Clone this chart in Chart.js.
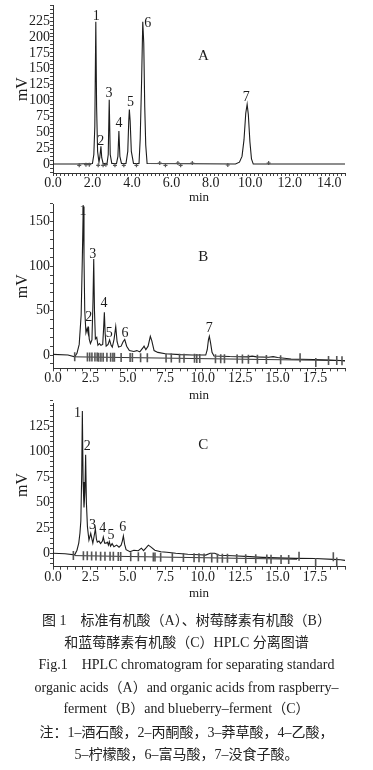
<!DOCTYPE html>
<html><head><meta charset="utf-8">
<script src="https://cdn.jsdelivr.net/npm/chart.js@4.4.1/dist/chart.umd.min.js"></script>
<style>
html,body{margin:0;padding:0;background:#fff;}
body{width:373px;height:770px;position:relative;overflow:hidden;}
canvas{position:absolute;left:0;}
.cap{position:absolute;left:0;width:373px;text-align:center;font-family:"Liberation Serif","Noto Sans CJK SC",serif;font-size:14px;color:#222;white-space:nowrap;line-height:20px;height:20px;}
</style></head><body>
<canvas id="cA" width="373" height="205" style="top:0px"></canvas>
<canvas id="cB" width="373" height="205" style="top:198px"></canvas>
<canvas id="cC" width="373" height="204" style="top:397px"></canvas>
<div class="cap" style="top:611px">图 1　标准有机酸（A）、树莓酵素有机酸（B）</div>
<div class="cap" style="top:633px">和蓝莓酵素有机酸（C）HPLC 分离图谱</div>
<div class="cap" style="top:655px">Fig.1　HPLC chromatogram for separating standard</div>
<div class="cap" style="top:678px">organic acids（A）and organic acids from raspberry–</div>
<div class="cap" style="top:699px">ferment（B）and blueberry–ferment（C）</div>
<div class="cap" style="top:723px">注：1–酒石酸，2–丙酮酸，3–莽草酸，4–乙酸，</div>
<div class="cap" style="top:745px">5–柠檬酸，6–富马酸，7–没食子酸。</div>
<script>
// ---------- Panel A : standard organic acids ----------
const timeA   = [0, 1.2, 2.0, 2.07, 2.12, 2.17, 2.21, 2.26, 2.33, 2.37, 2.43, 2.47, 2.54, 2.74, 2.8, 2.85, 2.9, 2.98, 3.22, 3.29, 3.34, 3.39, 3.47, 3.7, 3.79, 3.84, 3.87, 3.91, 3.97, 4.08, 4.36, 4.42, 4.49, 4.55, 4.6, 4.65, 4.7, 4.77, 9.25, 9.45, 9.58, 9.68, 9.77, 9.84, 9.9, 9.98, 10.06, 10.15, 14.8];
const signalA = [0, 0, 1, 15, 60, 224, 90, 20, 3, 10, 28, 10, 1, 1, 15, 101, 15, 1, 1, 12, 52, 12, 1, 1, 20, 68, 86, 68, 20, 1, 1, 40, 130, 224, 190, 90, 30, 1, 0, 3, 12, 38, 80, 94, 78, 35, 8, 0, 0];
const markTimeA = [1.33, 1.67, 1.84, 2.29, 2.54, 2.68, 3.14, 3.59, 4.23, 5.41, 5.7, 6.33, 6.47, 7.06, 8.86, 10.93];
const markValA  = [-2, -1, -1, -2, -2, -1, -2, -2, -2, 1.5, -2, 1.5, -2, 1.5, -1.5, 1.5];
const peakNumA  = ['1', '2', '3', '4', '5', '6', '7'];
const peakLblTimeA = [2.19, 2.42, 2.84, 3.34, 3.93, 4.8, 9.79];
const peakLblValA  = [233, 35, 111, 63.5, 97, 222, 105];
const xMajorA = [0, 2, 4, 6, 8, 10, 12, 14];
const yMajorA = [0, 25, 50, 75, 100, 125, 150, 175, 200, 225];

// ---------- Panel B : raspberry ferment ----------
const timeB   = [0, 1.0, 1.45, 1.6, 1.75, 1.88, 1.96, 2.02, 2.07, 2.12, 2.2, 2.28, 2.33, 2.37, 2.42, 2.5, 2.6, 2.67, 2.72, 2.77, 2.83, 2.92, 3.0, 3.1, 3.2, 3.32, 3.38, 3.43, 3.48, 3.55, 3.68, 3.78, 3.88, 3.96, 4.08, 4.19, 4.28, 4.38, 4.55, 4.68, 4.79, 4.92, 5.1, 5.4, 5.6, 5.8, 6.0, 6.08, 6.2, 6.35, 6.5, 6.6, 6.75, 7.0, 7.5, 8.5, 9.3, 10.2, 10.3, 10.38, 10.44, 10.52, 10.62, 10.75, 11.8, 13.0, 13.3, 13.6, 14.4, 14.7, 15.0, 15.9, 17.4, 18.5, 19.2, 19.5];
const signalB = [0.8, 0, -2, 2, 12, 45, 110, 167, 110, 50, 25, 30, 26, 32, 18, 13, 17, 60, 108, 50, 18, 20, 11, 13, 11, 12, 30, 48, 25, 10, 12, 17, 11, 9, 18, 32, 15, 9, 10, 15, 17.5, 10, 5, 4, 5, 3.5, 8, 10, 6, 10, 21, 16, 5, 3, 1.5, 0.5, 0, 0, 6, 17, 21, 14, 3, -1, -1.7, -2, -1.2, -2, -2.4, -1.8, -2.8, -4.4, -5, -5.5, -6.2, -6.5];
const baseTimeB = [1.45, 19.5];
const baseValB  = [-2, -6.3];
const markTimeB = [1.45, 2.3, 2.45, 2.6, 2.8, 2.95, 3.05, 3.2, 3.35, 3.6, 3.85, 4.0, 4.1, 4.55, 5.15, 5.3, 5.85, 6.3, 7.55, 7.9, 8.45, 8.75, 9.45, 9.6, 9.8, 10.85, 11.2, 11.45, 12.3, 12.65, 13.05, 13.65, 14.25, 15.2, 16.5, 17.55, 18.4, 18.95, 19.3];
const markValB  = [-2, -2.2, -2.2, -2.3, -2.3, -2.3, -2.4, -2.4, -2.4, -2.5, -2.5, -2.5, -2.6, -2.7, -2.8, -2.8, -3, -3, -3.3, -3.4, -3.5, -3.6, -3.7, -3.8, -3.8, -4.1, -4.2, -4.2, -4.4, -4.5, -4.6, -4.8, -4.9, -5.2, -3, -8.5, -6, -6.2, -6.3];
const peakNumB  = ['1', '2', '3', '4', '5', '6', '7'];
const peakLblTimeB = [2.0, 2.38, 2.65, 3.41, 3.76, 4.81, 10.44];
const peakLblValB  = [162, 42, 113.6, 57.7, 25, 25, 29.8];
const xMajorBC = [0, 2.5, 5, 7.5, 10, 12.5, 15, 17.5];
const yMajorB = [0, 50, 100, 150];

// ---------- Panel C : blueberry ferment ----------
const timeC   = [0, 0.8, 1.45, 1.6, 1.72, 1.8, 1.86, 1.92, 1.96, 2.01, 2.07, 2.13, 2.18, 2.23, 2.3, 2.4, 2.52, 2.6, 2.66, 2.76, 2.83, 2.9, 2.96, 3.07, 3.18, 3.3, 3.36, 3.45, 3.55, 3.63, 3.7, 3.76, 3.84, 3.95, 4.07, 4.25, 4.41, 4.55, 4.63, 4.7, 4.78, 4.88, 5.14, 5.4, 5.7, 5.9, 6.05, 6.2, 6.37, 6.55, 6.8, 7.2, 7.6, 8.2, 9.0, 9.8, 10.2, 10.5, 10.8, 11.1, 12.0, 13.15, 14.0, 15.0, 16.2, 17.5, 18.7, 19.2, 19.5];
const signalC = [0, -0.5, -1.5, 3, 10, 20, 32, 80, 140, 70, 45, 60, 97, 50, 26, 13, 19.6, 14, 10, 18, 24, 14, 11, 12, 9.5, 12, 16, 10, 10, 11, 8, 11.5, 7, 9.5, 6.5, 8, 6, 8, 12, 17, 9, 3.5, 1.5, 3, 2.5, 5, 2.5, 5, 8, 6, 3, 1.5, 1, 0, -1, -1.5, -1.8, 0, 0, -2, -2.5, -3.3, -4, -4.5, -5, -5.2, -6, -6.3, -7];
const baseTimeC = [1.45, 16.3];
const baseValC  = [-2.3, -5.9];
const markTimeC = [1.36, 2.03, 2.29, 2.58, 2.87, 3.18, 3.47, 3.81, 4.03, 4.36, 4.52, 5.19, 5.7, 6.14, 6.7, 6.81, 7.19, 7.97, 8.71, 9.42, 9.75, 10.09, 10.6, 10.98, 11.31, 11.65, 12.27, 12.87, 13.54, 14.28, 14.56, 15.23, 15.74, 16.43, 17.54, 18.72, 18.95];
const markValC  = [-2.3, -2.4, -2.5, -2.6, -2.7, -2.8, -2.8, -2.9, -3, -3.1, -3.1, -3.3, -3.4, -3.5, -3.7, -3.7, -3.8, -4, -4.2, -4.4, -4.5, -4.6, -4.7, -4.8, -4.9, -5, -5.2, -5.3, -5.5, -5.7, -5.8, -6, -6.1, -3, -9, -3.5, -8.5];
const peakNumC  = ['1', '2', '3', '4', '5', '6'];
const peakLblTimeC = [1.63, 2.29, 2.63, 3.32, 3.87, 4.65];
const peakLblValC  = [137.5, 105, 27.8, 24.5, 18, 25.5];
const yMajorC = [0, 25, 50, 75, 100, 125];

const SERIF = '"Liberation Serif", "Times New Roman", serif';
const INK = '#1c1c1c';

function pts(xs, ys) { return xs.map((t, i) => ({ x: t, y: ys[i] })); }
function range(a, b, step) { const out = []; const n = Math.round((b - a) / step); for (let i = 0; i <= n; i++) out.push(Math.round((a + i * step) * 1000) / 1000); return out; }
function isIn(v, arr) { return arr.some(m => Math.abs(m - v) < 1e-6); }

function labelPlugin(nums, lx, ly, letter, letX, letY) {
  return {
    id: 'peakLabels',
    afterDatasetsDraw(chart) {
      const { ctx, scales: { x, y } } = chart;
      ctx.save();
      ctx.fillStyle = INK;
      ctx.textAlign = 'center';
      ctx.textBaseline = 'middle';
      ctx.font = '14px ' + SERIF;
      nums.forEach((s, i) => ctx.fillText(s, x.getPixelForValue(lx[i]), y.getPixelForValue(ly[i])));
      ctx.font = '15px ' + SERIF;
      ctx.fillText(letter, x.getPixelForValue(letX), y.getPixelForValue(letY));
      ctx.restore();
    }
  };
}

function makeChart(id, cfg) {
  const datasets = [
    { data: pts(cfg.t, cfg.s), showLine: true, borderColor: INK, borderWidth: 1.1, pointRadius: 0, tension: 0, order: 1 }
  ];
  if (cfg.bt) datasets.push({ data: pts(cfg.bt, cfg.bv), showLine: true, borderColor: '#333', borderWidth: 1, pointRadius: 0, tension: 0, order: 2 });
  datasets.push({ data: pts(cfg.mt, cfg.mv), showLine: false, pointStyle: cfg.markStyle, rotation: cfg.markRot, radius: cfg.markR, pointRadius: cfg.markR, borderColor: '#555', borderWidth: cfg.markW, backgroundColor: '#555', order: 0 });
  const xTicks = range(0, cfg.xmax, cfg.xminor);
  const yTicks = range(cfg.ytickMin, cfg.ymax, cfg.yminor);
  return new Chart(document.getElementById(id), {
    type: 'scatter',
    data: { datasets },
    options: {
      responsive: false, animation: false, events: [],
      layout: { padding: { top: cfg.padTop, right: 28, left: 0, bottom: 0 } },
      plugins: { legend: { display: false }, tooltip: { enabled: false } },
      scales: {
        x: {
          type: 'linear', min: 0, max: cfg.xmax,
          afterBuildTicks: s => { s.ticks = xTicks.map(v => ({ value: v })); },
          afterFit: s => { s.height = cfg.xh; s.paddingLeft = 0; s.paddingRight = 0; },
          ticks: { autoSkip: false, maxRotation: 0, padding: -1, color: INK, font: { family: SERIF, size: 14 },
                   callback: v => isIn(v, cfg.xMajor) ? v.toFixed(1) : '' },
          grid: { drawOnChartArea: false, tickLength: 3, tickColor: '#444', color: '#444' },
          border: { color: '#333', width: 1 },
          title: { display: true, text: 'min', color: INK, font: { family: SERIF, size: 13 }, padding: { top: 0, bottom: 0 } }
        },
        y: {
          type: 'linear', min: cfg.ymin, max: cfg.ymax,
          afterBuildTicks: s => { s.ticks = yTicks.map(v => ({ value: v })); },
          afterFit: s => { s.width = 53; s.paddingTop = 0; s.paddingBottom = 0; },
          ticks: { autoSkip: false, padding: 0, color: INK, font: { family: SERIF, size: 14 },
                   callback: v => isIn(v, cfg.yMajor) ? String(v) : '' },
          grid: { drawOnChartArea: false, tickLength: 3, tickColor: '#444', color: '#444' },
          border: { color: '#333', width: 1 },
          title: { display: true, text: 'mV', color: INK, font: { family: SERIF, size: 16 }, padding: { top: 13, bottom: 0 } }
        }
      }
    },
    plugins: [labelPlugin(cfg.nums, cfg.lx, cfg.ly, cfg.letter, cfg.letX, cfg.letY)]
  });
}

makeChart('cA', { t: timeA, s: signalA, mt: markTimeA, mv: markValA, markStyle: 'cross', markRot: 0, markR: 2, markW: 1.2,
  xmax: 14.8, xminor: 0.2, xMajor: xMajorA, ymin: -14.06, ymax: 250, ytickMin: -12.5, yminor: 6.25, yMajor: yMajorA,
  padTop: 4, xh: 32, nums: peakNumA, lx: peakLblTimeA, ly: peakLblValA, letter: 'A', letX: 7.63, letY: 170 });

makeChart('cB', { t: timeB, s: signalB, bt: baseTimeB, bv: baseValB, mt: markTimeB, mv: markValB, markStyle: 'line', markRot: 90, markR: 4.5, markW: 1.6,
  xmax: 19.5, xminor: 0.5, xMajor: xMajorBC, ymin: -14.9, ymax: 169.8, ytickMin: -10, yminor: 10, yMajor: yMajorB,
  padTop: 5, xh: 34.7, nums: peakNumB, lx: peakLblTimeB, ly: peakLblValB, letter: 'B', letX: 10.04, letY: 110 });

makeChart('cC', { t: timeC, s: signalC, bt: baseTimeC, bv: baseValC, mt: markTimeC, mv: markValC, markStyle: 'line', markRot: 90, markR: 4.5, markW: 1.6,
  xmax: 19.5, xminor: 0.5, xMajor: xMajorBC, ymin: -13.2, ymax: 147.7, ytickMin: -10, yminor: 5, yMajor: yMajorC,
  padTop: 6, xh: 34.3, nums: peakNumC, lx: peakLblTimeC, ly: peakLblValC, letter: 'C', letX: 10.04, letY: 106 });
</script>
</body></html>
